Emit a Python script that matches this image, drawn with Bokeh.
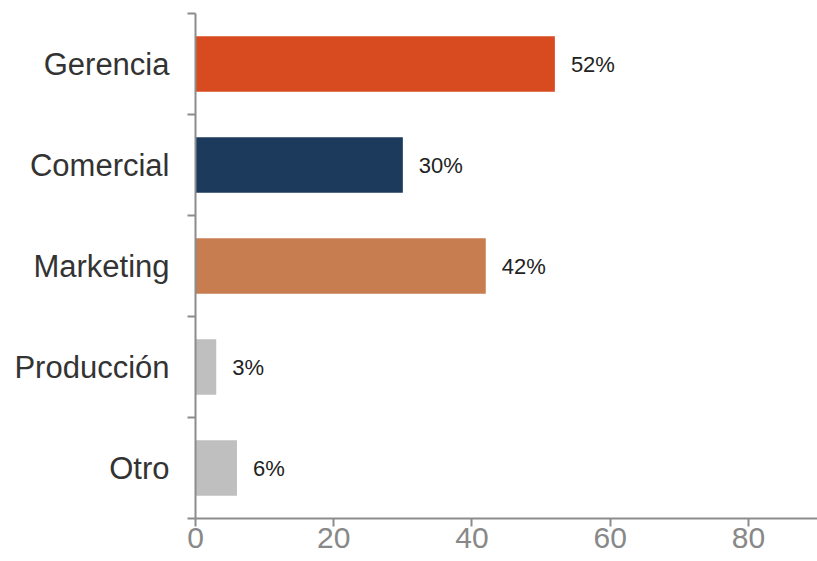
from bokeh.plotting import figure
from bokeh.models import ColumnDataSource, FixedTicker, Range1d
from bokeh.core.properties import value
from bokeh.embed import file_html
from bokeh.resources import INLINE

categories = ["Gerencia", "Comercial", "Marketing", "Producción", "Otro"]
values = [52, 30, 42, 3, 6]
colors = ["#D84B20", "#1B3A5C", "#C87D51", "#BFBFBF", "#BFBFBF"]
x_ticks = [0, 20, 40, 60, 80]

n = len(categories)
ypos = [n - i - 0.5 for i in range(n)]
labels = [f"{v}%" for v in values]

src = ColumnDataSource(dict(y=ypos, v=values, c=colors, lab=labels, cat=categories))

FONT = "Liberation Sans"
AXIS_GRAY = "#8c8c8c"

p = figure(width=817, height=561, output_backend="svg", toolbar_location=None,
           x_range=Range1d(0, 90), y_range=Range1d(0, n),
           min_border_left=195, min_border_right=0, min_border_top=13, min_border_bottom=43)
p.outline_line_color = None
p.xgrid.grid_line_color = None
p.ygrid.grid_line_color = None

p.hbar(y="y", right="v", left=0, height=0.55, fill_color="c", line_color=None, source=src)
p.text(x="v", y="y", text="lab", source=src, x_offset=16, text_baseline="middle",
       text_align="left", text_font=value(FONT), text_font_size="22px", text_color="#222222")

xa = p.xaxis[0]
xa.ticker = FixedTicker(ticks=x_ticks)
xa.axis_line_color = AXIS_GRAY
xa.axis_line_width = 2
xa.major_tick_line_color = AXIS_GRAY
xa.major_tick_line_width = 2
xa.major_tick_out = 8
xa.major_tick_in = 0
xa.minor_tick_line_color = None
xa.major_label_text_font = FONT
xa.major_label_text_font_size = "30px"
xa.major_label_text_color = "#888888"
xa.major_label_standoff = 1

ya = p.yaxis[0]
ya.ticker = FixedTicker(ticks=ypos, minor_ticks=list(range(n + 1)))
ya.major_label_overrides = {y: c for y, c in zip(ypos, categories)}
ya.axis_line_color = AXIS_GRAY
ya.axis_line_width = 2
ya.major_tick_line_color = None
ya.major_tick_out = 0
ya.major_tick_in = 0
ya.minor_tick_line_color = AXIS_GRAY
ya.minor_tick_line_width = 2
ya.minor_tick_out = 8
ya.minor_tick_in = 0
ya.major_label_text_font = FONT
ya.major_label_text_font_size = "31px"
ya.major_label_text_color = "#333333"
ya.major_label_standoff = 18

open("out.html", "w").write(file_html(p, INLINE))
